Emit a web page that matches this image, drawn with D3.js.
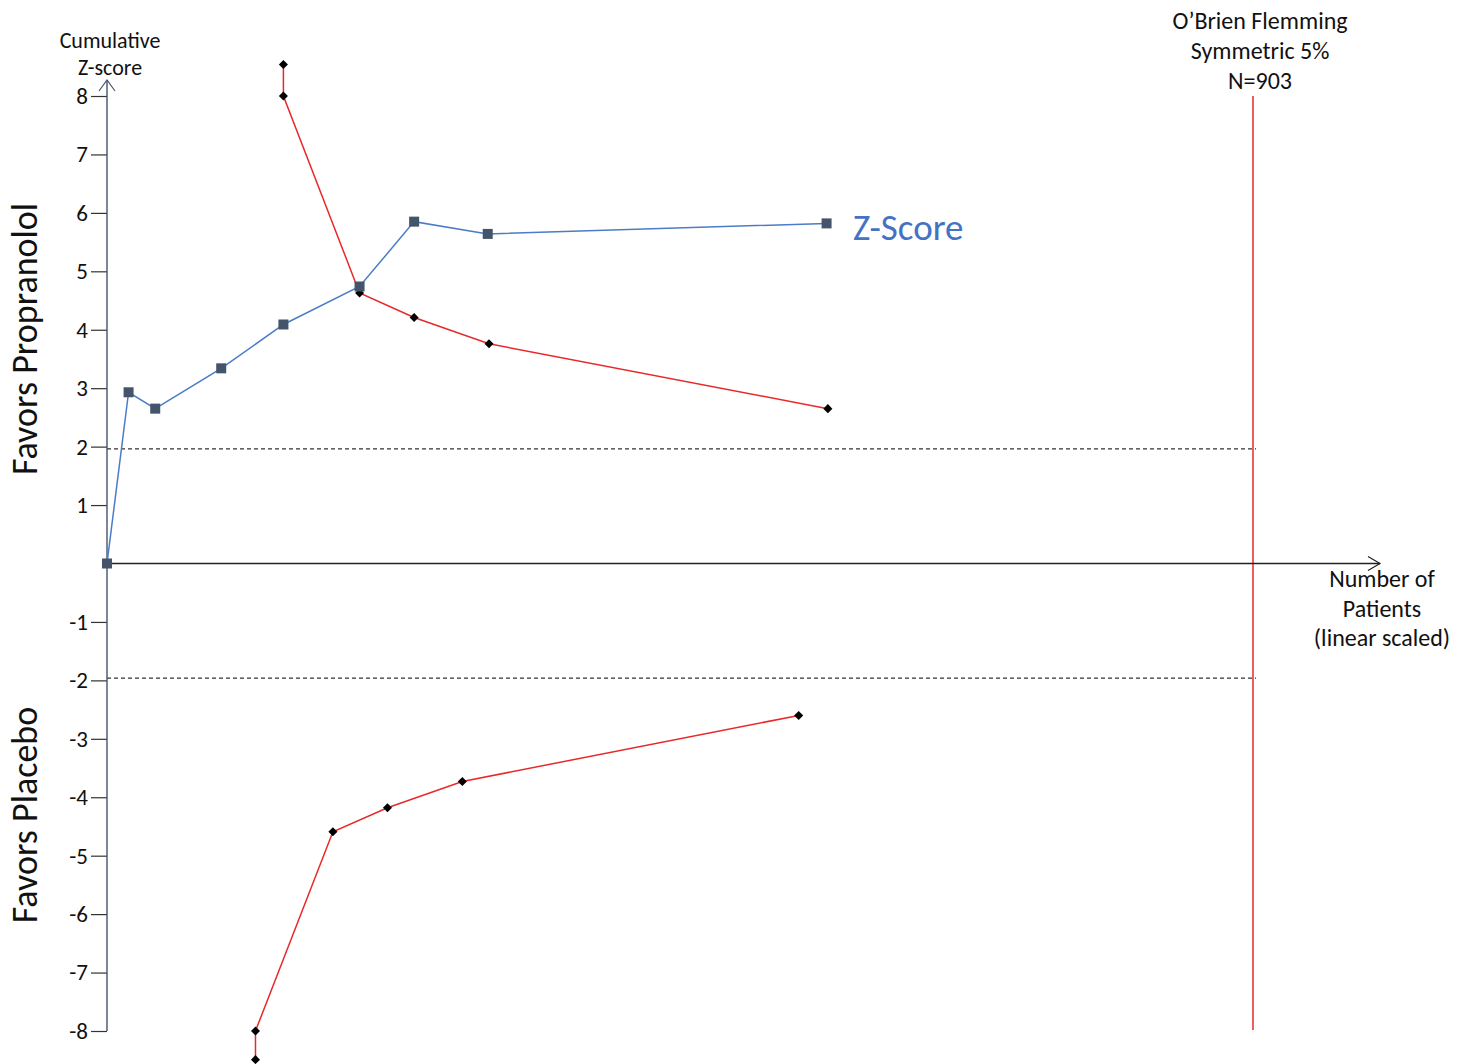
<!DOCTYPE html>
<html>
<head>
<meta charset="utf-8">
<script src="https://cdn.jsdelivr.net/npm/d3@7"></script>
<style>
  html, body { margin: 0; padding: 0; background: #ffffff; }
  svg { display: block; }
  text { font-family: Carlito, Lato, "Open Sans", sans-serif; }
</style>
</head>
<body>
<svg id="chart" width="1468" height="1064"></svg>
<script>
// Cumulative Z-curve (patients accrued vs cumulative Z)
const zPatients = [0, 17, 38, 90, 139, 199, 242, 300, 567];
const zValues   = [0, 2.93, 2.65, 3.34, 4.09, 4.74, 5.85, 5.64, 5.82];

// Upper O'Brien-Fleming monitoring boundary
const upperPatients = [139, 139, 199, 242, 301, 568];
const upperValues   = [8.54, 8.0, 4.63, 4.21, 3.76, 2.65];

// Lower O'Brien-Fleming monitoring boundary
const lowerPatients = [117, 117, 178, 221, 280, 545];
const lowerValues   = [-8.49, -8.0, -4.59, -4.18, -3.73, -2.60];

// Conventional significance limits and required information size
const conventionalZ = [1.96, -1.96];
const requiredN = 903;

// Tick labels on the Z axis
const yTicks = [8, 7, 6, 5, 4, 3, 2, 1, -1, -2, -3, -4, -5, -6, -7, -8];

const svg = d3.select("#chart");

const x = d3.scaleLinear().domain([0, requiredN]).range([107, 1253]);
const y = d3.scaleLinear().domain([-8, 8]).range([1031, 96]);

const toPts = (ns, zs) => ns.map((n, i) => ({ n, z: zs[i] }));
const line = d3.line().x(d => x(d.n)).y(d => y(d.z));

// Required information size line
svg.append("line")
  .attr("x1", x(requiredN)).attr("x2", x(requiredN))
  .attr("y1", y(8)).attr("y2", y(-8) - 1)
  .attr("stroke", "#e8292a").attr("stroke-width", 1.5);

// Conventional boundaries (dashed)
svg.selectAll("line.conv")
  .data(conventionalZ)
  .join("line")
  .attr("class", "conv")
  .attr("x1", x(0)).attr("x2", x(requiredN) + 3)
  .attr("y1", d => y(d)).attr("y2", d => y(d))
  .attr("stroke", "#333333").attr("stroke-width", 1.2)
  .attr("stroke-dasharray", "4,3");

// X axis (number of patients) with open arrow head
const xAxisEnd = 1380;
svg.append("line")
  .attr("x1", x(0)).attr("x2", xAxisEnd)
  .attr("y1", y(0)).attr("y2", y(0))
  .attr("stroke", "#222222").attr("stroke-width", 1.4);
svg.append("path")
  .attr("d", `M${xAxisEnd - 12},${y(0) - 7} L${xAxisEnd},${y(0)} L${xAxisEnd - 12},${y(0) + 7}`)
  .attr("fill", "none").attr("stroke", "#222222").attr("stroke-width", 1.2);

// Y axis with ticks
const yAxis = d3.axisLeft(y)
  .tickValues(yTicks)
  .tickSize(16)
  .tickPadding(3)
  .tickFormat(d => String(d));
const gY = svg.append("g")
  .attr("transform", `translate(${x(0)},0)`)
  .call(yAxis);
gY.select(".domain").remove();
gY.selectAll(".tick line").attr("stroke", "#333333").attr("stroke-width", 1.2);
gY.selectAll(".tick text")
  .attr("fill", "#111111")
  .style("font-size", "23px");

const yTop = 80;
svg.append("line")
  .attr("x1", x(0)).attr("x2", x(0))
  .attr("y1", y(-8)).attr("y2", yTop)
  .attr("stroke", "#44546a").attr("stroke-width", 1.4);
svg.append("path")
  .attr("d", `M${x(0) - 8},${yTop + 11} L${x(0)},${yTop} L${x(0) + 8},${yTop + 11}`)
  .attr("fill", "none").attr("stroke", "#44546a").attr("stroke-width", 1.2);

// Boundary curves
[toPts(upperPatients, upperValues), toPts(lowerPatients, lowerValues)].forEach(pts => {
  svg.append("path")
    .attr("d", line(pts))
    .attr("fill", "none").attr("stroke", "#e8292a").attr("stroke-width", 1.5);
  svg.selectAll(null)
    .data(pts)
    .join("path")
    .attr("d", d3.symbol(d3.symbolDiamond2, 52))
    .attr("transform", d => `translate(${x(d.n)},${y(d.z)})`)
    .attr("fill", "#000000");
});

// Cumulative Z-curve
const zPts = toPts(zPatients, zValues);
svg.append("path")
  .attr("d", line(zPts))
  .attr("fill", "none").attr("stroke", "#4a7cc7").attr("stroke-width", 1.5);
svg.selectAll("rect.zpt")
  .data(zPts)
  .join("rect")
  .attr("class", "zpt")
  .attr("x", d => x(d.n) - 5).attr("y", d => y(d.z) - 5)
  .attr("width", 10).attr("height", 10)
  .attr("fill", "#44546a");

// Labels
svg.append("text")
  .attr("x", 853).attr("y", 240)
  .attr("fill", "#4472c4")
  .style("font-size", "37px")
  .text("Z-Score");

const centered = (lines, cx, firstY, dy, size) => {
  lines.forEach((t, i) => {
    svg.append("text")
      .attr("x", cx).attr("y", firstY + i * dy)
      .attr("text-anchor", "middle")
      .attr("fill", "#111111")
      .style("font-size", size + "px")
      .text(t);
  });
};

centered(["Cumulative", "Z-score"], 110, 48, 27, 22);
centered(["O\u2019Brien Flemming", "Symmetric 5%", "N=903"], 1260, 29, 30, 24);
centered(["Number of", "Patients", "(linear scaled)"], 1382, 587, 29.5, 24);

svg.append("text")
  .attr("transform", `translate(37,339) rotate(-90)`)
  .attr("text-anchor", "middle")
  .attr("fill", "#111111")
  .style("font-size", "36px")
  .text("Favors Propranolol");

svg.append("text")
  .attr("transform", `translate(37,815) rotate(-90)`)
  .attr("text-anchor", "middle")
  .attr("fill", "#111111")
  .style("font-size", "36px")
  .text("Favors Placebo");
</script>
</body>
</html>
